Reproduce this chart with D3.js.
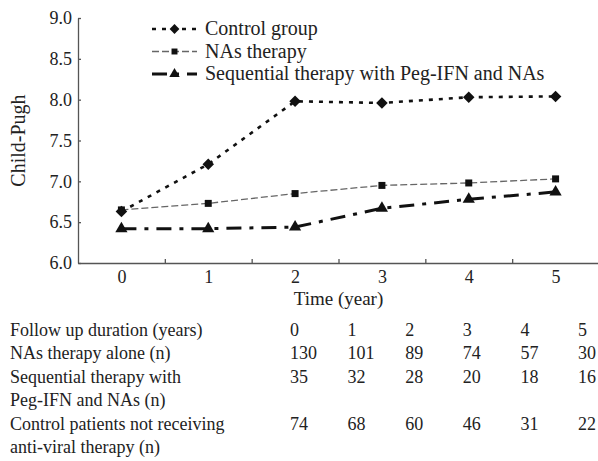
<!DOCTYPE html>
<html lang="en">
<head>
    <meta charset="utf-8" />
    <title>Child-Pugh over time</title>
    <script src="https://cdnjs.cloudflare.com/ajax/libs/d3/7.8.5/d3.min.js"></script>
    <style>
        body { margin: 0; background: #fff; }
        svg text { font-family: "Liberation Serif", "Times New Roman", serif; fill: #222; }
    </style>
</head>
<body>
<div id="chart"></div>
<script>
    // Data
    const years = [0, 1, 2, 3, 4, 5];
    const controlValues = [6.63, 7.21, 7.98, 7.96, 8.03, 8.04];
    const nasValues = [6.65, 6.73, 6.85, 6.95, 6.98, 7.03];
    const sequentialValues = [6.42, 6.42, 6.44, 6.67, 6.78, 6.87];
    const yTicks = [6.0, 6.5, 7.0, 7.5, 8.0, 8.5, 9.0];

    const seriesNames = ["Control group", "NAs therapy", "Sequential therapy with Peg-IFN and NAs"];

    // Follow-up table
    const tableHeader = "Follow up duration (years)";
    const tableRowLabels = [
        ["NAs therapy alone (n)"],
        ["Sequential therapy with", "Peg-IFN and NAs (n)"],
        ["Control patients not receiving", "anti-viral therapy (n)"]
    ];
    const nasCounts = [130, 101, 89, 74, 57, 30];
    const sequentialCounts = [35, 32, 28, 20, 18, 16];
    const controlCounts = [74, 68, 60, 46, 31, 22];

    const width = 598;
    const height = 461;

    const svg = d3.select("#chart")
        .append("svg")
        .attr("width", width)
        .attr("height", height);

    const x = d3.scaleLinear().domain([-0.5, 5.5]).range([78, 599]);
    const y = d3.scaleLinear().domain([6, 9]).range([263, 18]);

    const axisColor = "#555";

    // y axis, ticks pointing inward
    const yAxis = svg.append("g")
        .attr("transform", `translate(${x(-0.5)},0)`)
        .call(d3.axisLeft(y).tickValues(yTicks).tickFormat(d3.format(".1f"))
            .tickSizeInner(-3).tickSizeOuter(0).tickPadding(6));

    // x axis: small ticks between the years, labels at the years
    const xAxis = svg.append("g")
        .attr("transform", `translate(0,${y(6)})`)
        .call(d3.axisBottom(x).tickValues([0.5, 1.5, 2.5, 3.5, 4.5]).tickFormat("")
            .tickSizeInner(-4).tickSizeOuter(0));

    const xLabels = svg.append("g")
        .attr("transform", `translate(0,${y(6)})`)
        .call(d3.axisBottom(x).tickValues(years).tickFormat(d3.format("d"))
            .tickSize(0).tickPadding(7));
    xLabels.select(".domain").remove();

    [yAxis, xAxis, xLabels].forEach(g => {
        g.selectAll("path, line").attr("stroke", axisColor).attr("stroke-width", 1.3);
        g.selectAll("text").attr("font-size", 18).attr("fill", "#222")
            .attr("font-family", "'Liberation Serif', serif");
    });

    // Axis titles
    svg.append("text")
        .attr("transform", `translate(25,${(y(6) + y(9)) / 2}) rotate(-90)`)
        .attr("text-anchor", "middle")
        .attr("font-size", 20)
        .text("Child-Pugh");

    svg.append("text")
        .attr("x", (x(-0.5) + x(5.5)) / 2)
        .attr("y", 305)
        .attr("text-anchor", "middle")
        .attr("font-size", 19)
        .text("Time (year)");

    // Series styles
    const series = [
        { name: seriesNames[1], values: nasValues, color: "#666", width: 1.3, dash: "7,3", marker: "square", size: 7 },
        { name: seriesNames[2], values: sequentialValues, color: "#111", width: 3, dash: "15,8,4,8", marker: "triangle", size: 12 },
        { name: seriesNames[0], values: controlValues, color: "#111", width: 2.6, dash: "4,6", marker: "diamond", size: 11 }
    ];

    const symbolFor = (marker, size) => {
        if (marker === "square") return d3.symbol(d3.symbolSquare, size * size)();
        if (marker === "triangle") return d3.symbol(d3.symbolTriangle, size * size * 0.45)();
        // diamond drawn as rotated square
        return d3.symbol(d3.symbolSquare, size * size * 0.55)();
    };

    const line = d3.line()
        .x((d, i) => x(years[i]))
        .y(d => y(d));

    series.forEach(s => {
        svg.append("path")
            .datum(s.values)
            .attr("fill", "none")
            .attr("stroke", s.color)
            .attr("stroke-width", s.width)
            .attr("stroke-dasharray", s.dash)
            .attr("d", line);

        svg.selectAll(null)
            .data(s.values)
            .enter()
            .append("path")
            .attr("d", symbolFor(s.marker, s.size))
            .attr("transform", (d, i) => `translate(${x(years[i])},${y(d)})` + (s.marker === "diamond" ? " rotate(45)" : ""))
            .attr("fill", "#111");
    });

    // Legend
    const legendOrder = [series[2], series[0], series[1]];
    const legend = svg.append("g").attr("class", "legend");
    legendOrder.forEach((s, i) => {
        const cy = 29 + i * 22.5;
        legend.append("line")
            .attr("x1", 152).attr("x2", 197)
            .attr("y1", cy).attr("y2", cy)
            .attr("stroke", s.color)
            .attr("stroke-width", s.width)
            .attr("stroke-dasharray", s.dash);
        legend.append("path")
            .attr("d", symbolFor(s.marker, s.size * 0.85))
            .attr("transform", `translate(174.5,${cy})` + (s.marker === "diamond" ? " rotate(45)" : ""))
            .attr("fill", "#111");
        legend.append("text")
            .attr("x", 205)
            .attr("y", cy + 6)
            .attr("font-size", 20)
            .text(s.name);
    });

    // Table under the chart
    const col = d3.scaleLinear().domain([0, 5]).range([290, 578]);
    const rowY = d3.scaleLinear().domain([0, 1]).range([336, 359.4]);
    const table = svg.append("g").attr("font-size", 18);

    table.append("text").attr("x", 10).attr("y", rowY(0)).text(tableHeader);
    table.selectAll(".yr")
        .data(years)
        .enter()
        .append("text")
        .attr("x", (d, i) => col(i))
        .attr("y", rowY(0))
        .text(d => d);

    const tableCounts = [nasCounts, sequentialCounts, controlCounts];
    let line0 = 1;
    tableRowLabels.forEach((labelLines, r) => {
        labelLines.forEach((t, k) => {
            table.append("text").attr("x", 10).attr("y", rowY(line0 + k)).text(t);
        });
        table.selectAll(null)
            .data(tableCounts[r])
            .enter()
            .append("text")
            .attr("x", (d, i) => col(i))
            .attr("y", rowY(line0))
            .text(d => d);
        line0 += labelLines.length;
    });
</script>
</body>
</html>
